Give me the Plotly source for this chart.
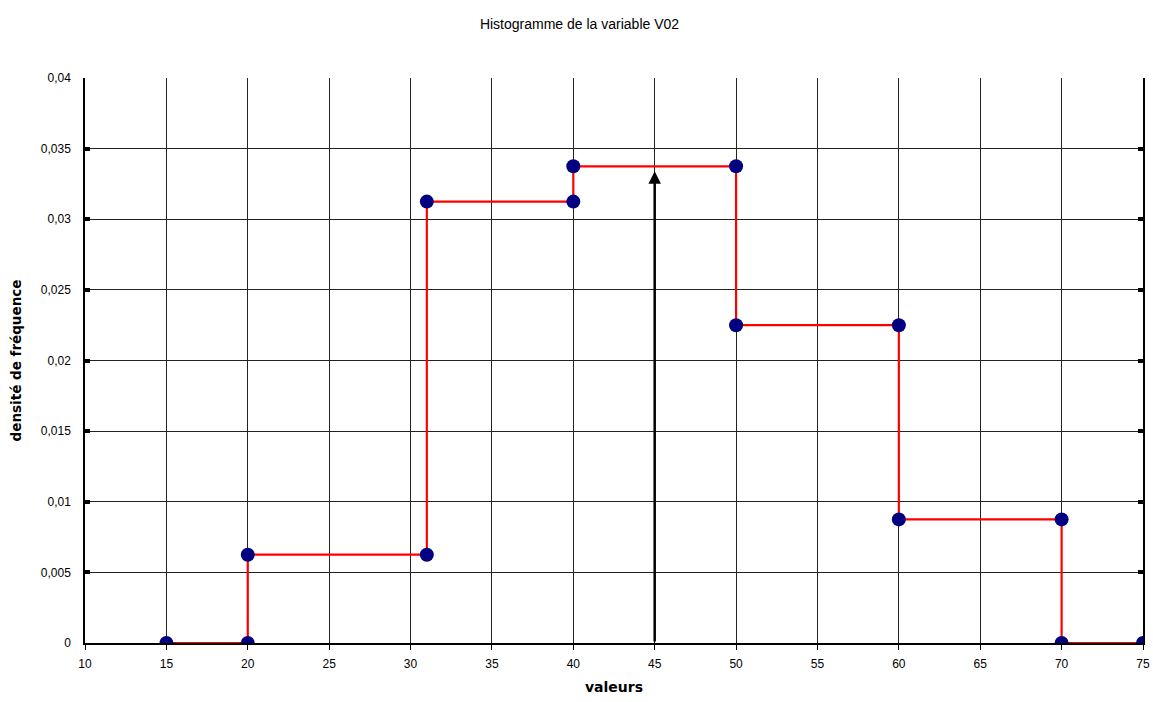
import plotly.graph_objects as go

# Step outline of the histogram (class bounds and density)
x_vals = [15, 20, 20, 31, 31, 40, 40, 50, 50, 60, 60, 70, 70, 75]
y_vals = [0, 0, 0.00625, 0.00625, 0.03125, 0.03125, 0.03375, 0.03375,
          0.0225, 0.0225, 0.00875, 0.00875, 0, 0]

# Mean arrow
arrow_x = 45
arrow_y0 = 0
arrow_y1 = 0.0334

x_ticks = [10, 15, 20, 25, 30, 35, 40, 45, 50, 55, 60, 65, 70, 75]
y_ticks = [0, 0.005, 0.01, 0.015, 0.02, 0.025, 0.03, 0.035, 0.04]
y_ticktext = ["0", "0,005", "0,01", "0,015", "0,02", "0,025", "0,03", "0,035", "0,04"]

fig = go.Figure()
fig.add_trace(go.Scatter(
    x=x_vals, y=y_vals, mode="lines+markers",
    line=dict(color="#ff0000", width=2.2),
    marker=dict(color="#000080", size=14),
    showlegend=False, hoverinfo="skip"))

fig.add_annotation(
    x=arrow_x, y=arrow_y1, ax=arrow_x, ay=arrow_y0,
    xref="x", yref="y", axref="x", ayref="y",
    showarrow=True, arrowhead=2, arrowsize=1, arrowwidth=2.5,
    arrowcolor="black", text="")

font = "Liberation Sans, Arial, sans-serif"
bold_font = "DejaVu Sans, Verdana, sans-serif"
fig.update_layout(
    width=1153, height=702,
    margin=dict(l=85, r=10, t=78, b=59, autoexpand=False),
    paper_bgcolor="white", plot_bgcolor="white",
    font=dict(family=font, size=12, color="black"),
    title=dict(text="Histogramme de la variable V02", xref="container", x=0.5026,
               xanchor="center", y=0.966, yanchor="middle",
               font=dict(size=14)),
    xaxis=dict(range=[10, 75], tickvals=x_ticks, showgrid=True,
               gridcolor="#222222", gridwidth=1.4, zeroline=False,
               showline=True, linecolor="black", linewidth=1.5,
               ticks="outside", ticklen=5, tickcolor="black",
               ticklabelstandoff=4,
               title=dict(text="<b>valeurs</b>", standoff=12,
                          font=dict(size=14, family=bold_font))),
    yaxis=dict(range=[0, 0.04], tickvals=y_ticks, ticktext=y_ticktext,
               showgrid=True, gridcolor="#222222", gridwidth=1.4, zeroline=False,
               showline=True, linecolor="black", linewidth=1.5, mirror="ticks",
               ticks="inside", ticklen=5, tickwidth=4, tickcolor="black",
               ticklabelstandoff=10,
               title=dict(text="<b>densité de fréquence</b>", standoff=16,
                          font=dict(size=13.5, family=bold_font))),
)

fig.write_html(
    "out.html",
    config={"displayModeBar": False},
    post_script="document.body.style.margin='0';document.body.style.overflow='hidden';",
)
